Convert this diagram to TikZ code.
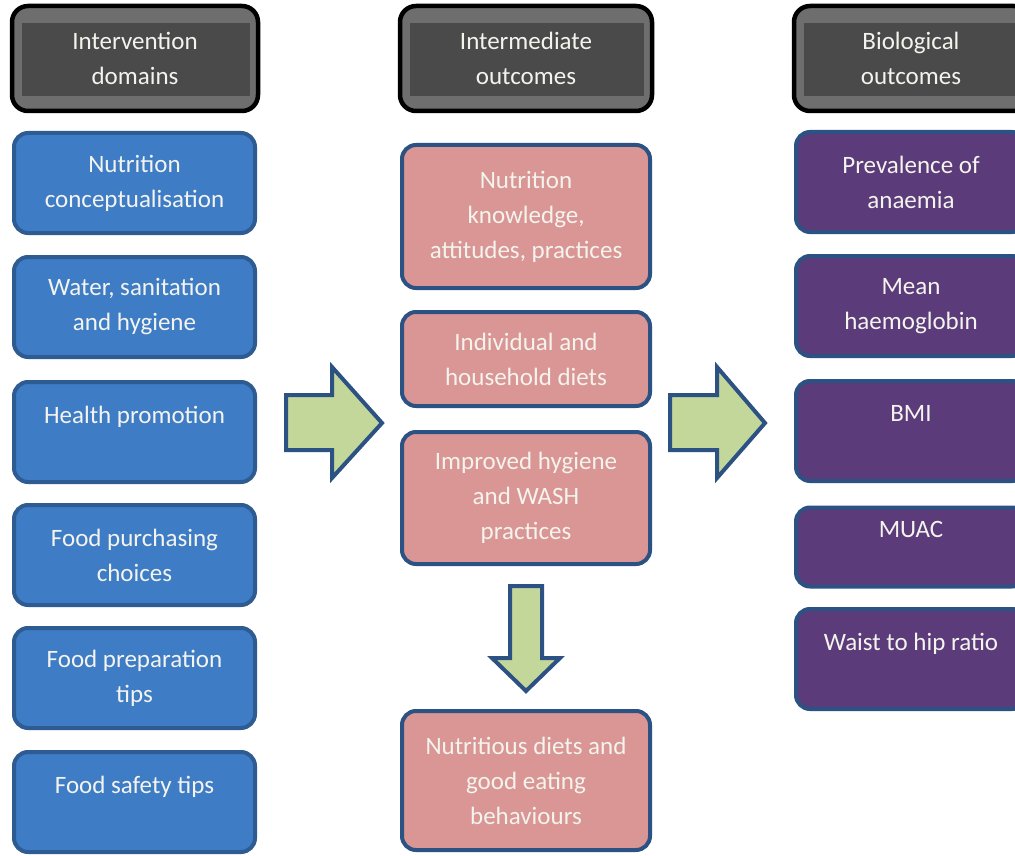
\documentclass[tikz,border=0pt]{standalone}
\usepackage{fontspec}
\setmainfont{Carlito}
\definecolor{headfill}{HTML}{4A4A4A}
\definecolor{headband}{HTML}{6E6E6E}
\definecolor{bluefill}{HTML}{3E7CC6}
\definecolor{bluedraw}{HTML}{2E5C92}
\definecolor{pinkfill}{HTML}{D99694}
\definecolor{purplefill}{HTML}{5B3B79}
\definecolor{darkedge}{HTML}{2B5283}
\definecolor{arrowfill}{HTML}{C4D79B}
\definecolor{boxtext}{HTML}{F4F4EE}
\tikzset{
  box/.style={rounded corners=14pt, line width=4pt, text=boxtext, align=center,
    font=\fontsize{25}{35}\selectfont, inner sep=0pt, minimum height=100pt},
  dombox/.style={box, draw=bluedraw, fill=bluefill, minimum width=241pt},
  midbox/.style={box, draw=darkedge, fill=pinkfill, minimum width=248pt},
  biobox/.style={box, draw=darkedge, fill=purplefill, minimum width=230pt},
  headtext/.style={text=boxtext, align=center, font=\fontsize{25}{35}\selectfont, inner sep=0pt},
  blockarrow/.style={line width=4pt, draw=darkedge, fill=arrowfill, line join=miter}
}
\begin{document}
\begin{tikzpicture}[x=1pt,y=-1pt]
\clip (0,0) rectangle (1015,856);
\fill[white] (0,0) rectangle (1015,856);
% column headers
\draw[line width=4.5pt, rounded corners=16pt, fill=headband] (12,6) rectangle (258,111);
\fill[headfill] (22,23) rectangle (250,96);
\node[headtext] (hdom) at (135,58) {Intervention\\domains};
\draw[line width=4.5pt, rounded corners=16pt, fill=headband] (400,6) rectangle (652,111);
\fill[headfill] (410,23) rectangle (644,96);
\node[headtext] (hmid) at (526,58) {Intermediate\\outcomes};
\draw[line width=4.5pt, rounded corners=16pt, fill=headband] (794,6) rectangle (1030,111);
\fill[headfill] (804,23) rectangle (1022,96);
\node[headtext] (hbio) at (911,58) {Biological\\outcomes};
% intervention domains
\node[dombox] (d1) at (134.5,183) {Nutrition\\conceptualisation};
\node[dombox] (d2) at (134.5,307) {Water, sanitation\\and hygiene};
\node[dombox] (d3) at (134.5,432) {Health promotion\\~};
\node[dombox] (d4) at (134.5,555) {Food purchasing\\choices};
\node[dombox] (d5) at (134.5,678) {Food preparation\\tips};
\node[dombox] (d6) at (134.5,802) {Food safety tips\\~};
% intermediate outcomes
\node[midbox, minimum height=143pt] (m1) at (526,216.5) {Nutrition\\knowledge,\\attitudes, practices};
\node[midbox, minimum height=94pt] (m2) at (526,359) {Individual and\\household diets};
\node[midbox, minimum height=132pt] (m3) at (526,498) {Improved hygiene\\and WASH\\practices};
\node[midbox, minimum height=139pt] (m4) at (526,780.5) {Nutritious diets and\\good eating\\behaviours};
% biological outcomes
\node[biobox] (b1) at (911,182) {Prevalence of\\anaemia};
\node[biobox] (b2) at (911,306) {Mean\\haemoglobin};
\node[biobox] (b3) at (911,431) {BMI\\~};
\node[biobox, minimum height=79pt] (b4) at (911,547) {MUAC\\~};
\node[biobox] (b5) at (911,659) {Waist to hip ratio\\~};
% block arrows
\coordinate (A) at (286,395);
\coordinate (B) at (332,395);
\coordinate (C) at (332,367);
\coordinate (D) at (382,423);
\coordinate (E) at (332,478);
\coordinate (F) at (332,450);
\coordinate (G) at (286,450);
\draw[blockarrow] (A) -- (B) -- (C) -- (D) -- (E) -- (F) -- (G) -- cycle;
\coordinate (H) at (670,395);
\coordinate (I) at (717,395);
\coordinate (J) at (717,367);
\coordinate (K) at (765,423);
\coordinate (L) at (717,478);
\coordinate (M) at (717,450);
\coordinate (N) at (670,450);
\draw[blockarrow] (H) -- (I) -- (J) -- (K) -- (L) -- (M) -- (N) -- cycle;
\coordinate (P) at (510,586);
\coordinate (Q) at (542,586);
\coordinate (R) at (542,658);
\coordinate (S) at (560,658);
\coordinate (T) at (526,691);
\coordinate (U) at (492,658);
\coordinate (V) at (510,658);
\draw[blockarrow] (P) -- (Q) -- (R) -- (S) -- (T) -- (U) -- (V) -- cycle;
\end{tikzpicture}
\end{document}
